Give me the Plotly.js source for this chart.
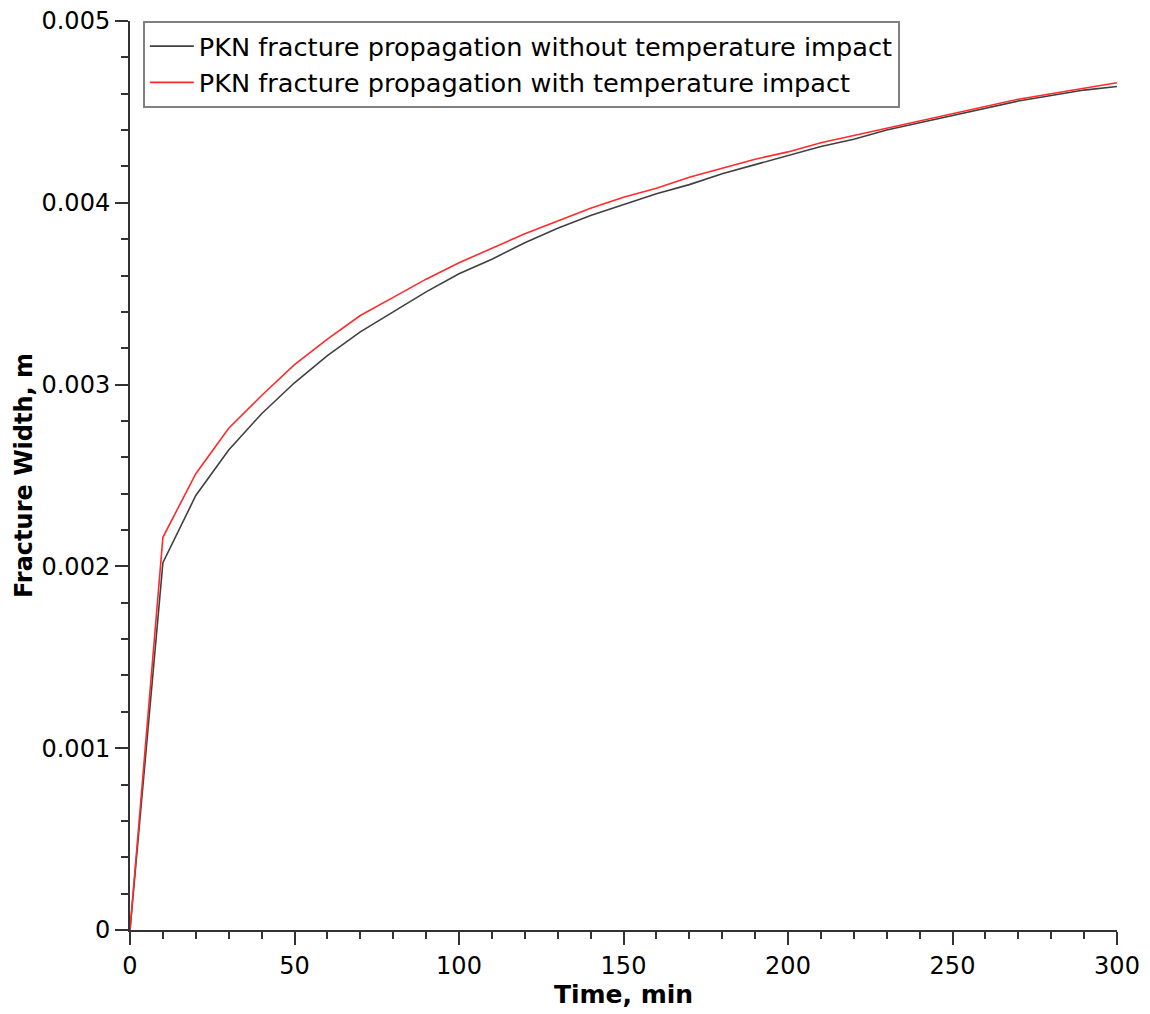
<!DOCTYPE html>
<html>
<head>
<meta charset="utf-8">
<script src="https://cdn.plot.ly/plotly-3.0.1.min.js"></script>
<style>html,body{margin:0;padding:0;background:#fff;}#chart{width:1150px;height:1014px;}</style>
</head>
<body>
<div id="chart"></div>
<script>
const timeMin = [0,10,20,30,40,50,60,70,80,90,100,110,120,130,140,150,160,170,180,190,200,210,220,230,240,250,260,270,280,290,300];
const widthWithout = [0,0.00202,0.00239,0.00264,0.00284,0.00301,0.00316,0.00329,0.00340,0.00351,0.00361,0.00369,0.00378,0.00386,0.00393,0.00399,0.00405,0.00410,0.00416,0.00421,0.00426,0.00431,0.00435,0.00440,0.00444,0.00448,0.00452,0.00456,0.00459,0.00462,0.00464];
const widthWith = [0,0.00216,0.00251,0.00276,0.00294,0.00311,0.00325,0.00338,0.00348,0.00358,0.00367,0.00375,0.00383,0.00390,0.00397,0.00403,0.00408,0.00414,0.00419,0.00424,0.00428,0.00433,0.00437,0.00441,0.00445,0.00449,0.00453,0.00457,0.00460,0.00463,0.00466];
const seriesNames = ["PKN fracture propagation without temperature impact","PKN fracture propagation with temperature impact"];

const font = "Tahoma, 'DejaVu Sans', sans-serif";
const traces = [
  {x: timeMin, y: widthWithout, mode: "lines", name: seriesNames[0], line: {color: "#404040", width: 1.6}},
  {x: timeMin, y: widthWith, mode: "lines", name: seriesNames[1], line: {color: "#ff2a2a", width: 1.6}}
];
const layout = {
  width: 1150, height: 1014,
  margin: {l: 130, r: 33, t: 21, b: 84},
  paper_bgcolor: "#fff", plot_bgcolor: "#fff",
  font: {family: font, size: 24, color: "#000"},
  showlegend: true,
  legend: {x: 0.013, y: 1, xanchor: "left", yanchor: "top", bordercolor: "#808080", borderwidth: 2, bgcolor: "#fff", font: {size: 25.6}, tracegroupgap: 0, itemwidth: 44},
  xaxis: {
    range: [0, 300], dtick: 50, tick0: 0, showgrid: false, zeroline: false,
    showline: true, linecolor: "#333", linewidth: 2,
    ticks: "outside", ticklen: 13, tickwidth: 2, tickcolor: "#333",
    minor: {dtick: 10, ticks: "outside", ticklen: 7, tickwidth: 2, tickcolor: "#333", showgrid: false},
    tickfont: {size: 24},
    title: {text: "<b>Time, min</b>", font: {size: 25}, standoff: 6}
  },
  yaxis: {
    range: [0, 0.005], dtick: 0.001, tick0: 0, showgrid: false, zeroline: false,
    showline: true, linecolor: "#333", linewidth: 2,
    ticks: "outside", ticklen: 13, tickwidth: 2, tickcolor: "#333",
    minor: {dtick: 0.0002, ticks: "outside", ticklen: 7, tickwidth: 2, tickcolor: "#333", showgrid: false},
    tickfont: {size: 24},
    title: {text: "<b>Fracture Width, m</b>", font: {size: 24}, standoff: 2}
  }
};
Plotly.newPlot("chart", traces, layout, {displayModeBar: false, staticPlot: true});
</script>
</body>
</html>
